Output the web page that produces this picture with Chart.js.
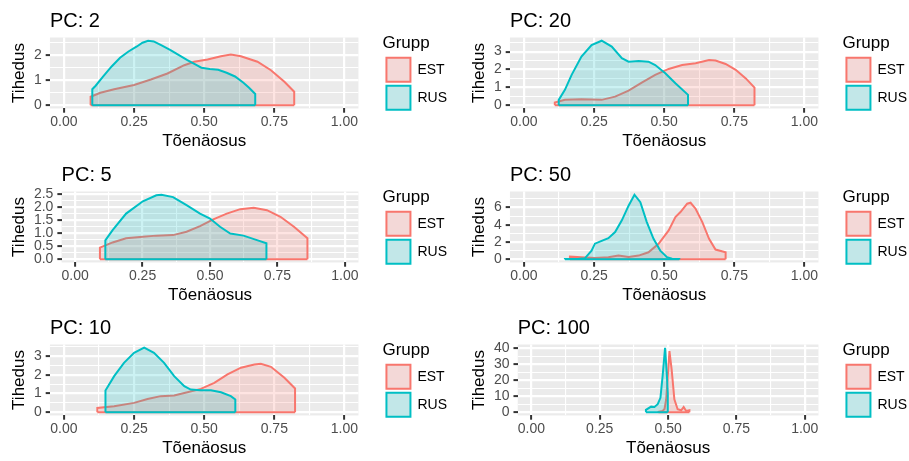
<!DOCTYPE html>
<html lang="et">
<head>
  <meta charset="UTF-8" />
  <title>Tõenäosuse tihedus</title>
  <script src="https://cdn.jsdelivr.net/npm/chart.js"></script>
  <style>
    body {
      margin: 0;
      background: #ffffff;
      width: 909px;
      height: 461px;
      overflow: hidden;
      position: relative;
    }
    canvas {
      position: absolute;
    }
  </style>
</head>
<body>
  <canvas id="c0" width="457" height="154" style="left:0;top:0"></canvas>
  <canvas id="c1" width="457" height="154" style="left:460px;top:0"></canvas>
  <canvas id="c2" width="457" height="154" style="left:0;top:154px"></canvas>
  <canvas id="c3" width="457" height="154" style="left:460px;top:154px"></canvas>
  <canvas id="c4" width="457" height="154" style="left:0;top:307px"></canvas>
  <canvas id="c5" width="457" height="154" style="left:460px;top:307px"></canvas>

  <script>
    // groups and colours (ggplot default hues)
    const groups = ['EST', 'RUS'];
    const lineColors = ['#F8766D', '#00BFC4'];
    const fillColors = ['rgba(248,118,109,0.2)', 'rgba(0,191,196,0.2)'];
    const keyColors = ['#F3D8D7', '#C2E7E8'];

    const xTicks = [0, 0.25, 0.5, 0.75, 1];
    const xTickLabels = ['0.00', '0.25', '0.50', '0.75', '1.00'];

    // density curves, [probability, density]
    const pc2Est = [[0.095,0],[0.095,0.34],[0.13,0.5],[0.179,0.64],[0.25,0.81],[0.31,1.03],[0.369,1.27],[0.429,1.6],[0.464,1.74],[0.512,1.83],[0.56,1.96],[0.595,2.03],[0.631,1.96],[0.69,1.74],[0.738,1.4],[0.786,0.94],[0.821,0.54],[0.821,0]];
    const pc2Rus = [[0.101,0],[0.101,0.64],[0.113,0.78],[0.14,1.15],[0.17,1.55],[0.2,1.9],[0.23,2.15],[0.26,2.35],[0.28,2.5],[0.3,2.58],[0.32,2.55],[0.35,2.38],[0.38,2.2],[0.41,2.0],[0.44,1.8],[0.47,1.62],[0.49,1.5],[0.52,1.45],[0.55,1.42],[0.58,1.3],[0.61,1.15],[0.64,0.9],[0.66,0.7],[0.682,0.45],[0.682,0]];

    const pc20Est = [[0.11,0],[0.11,0.15],[0.146,0.3],[0.205,0.34],[0.277,0.3],[0.325,0.48],[0.373,0.82],[0.42,1.27],[0.468,1.7],[0.516,2.03],[0.564,2.25],[0.612,2.35],[0.66,2.53],[0.683,2.5],[0.719,2.31],[0.755,1.98],[0.791,1.5],[0.822,0.99],[0.822,0]];
    const pc20Rus = [[0.124,0],[0.124,0.3],[0.146,0.86],[0.17,1.7],[0.205,2.72],[0.241,3.37],[0.277,3.61],[0.313,3.28],[0.349,2.63],[0.373,2.44],[0.409,2.48],[0.444,2.44],[0.468,2.25],[0.504,1.79],[0.54,1.23],[0.585,0.58],[0.585,0]];

    const pc5Est = [[0.092,0],[0.092,0.44],[0.139,0.64],[0.189,0.8],[0.251,0.86],[0.301,0.9],[0.363,0.92],[0.413,1.05],[0.463,1.26],[0.512,1.52],[0.562,1.74],[0.612,1.91],[0.662,1.96],[0.711,1.87],[0.761,1.62],[0.811,1.24],[0.861,0.8],[0.861,0]];
    const pc5Rus = [[0.112,0],[0.112,0.72],[0.139,1.11],[0.189,1.74],[0.251,2.21],[0.301,2.44],[0.32,2.46],[0.363,2.37],[0.413,2.06],[0.463,1.74],[0.5,1.55],[0.537,1.24],[0.575,0.98],[0.624,0.9],[0.674,0.73],[0.709,0.61],[0.709,0]];

    const pc50Est = [[0.164,0],[0.164,0.3],[0.205,0.23],[0.253,0.15],[0.301,0.23],[0.337,0.42],[0.373,0.27],[0.409,0.42],[0.444,0.8],[0.48,1.78],[0.516,3.33],[0.54,4.88],[0.558,5.46],[0.582,6.43],[0.594,6.54],[0.612,5.85],[0.636,4.3],[0.66,2.36],[0.683,1.12],[0.719,0.8],[0.719,0]];
    const pc50Rus = [[0.146,0],[0.146,0.02],[0.19,0.03],[0.217,0.1],[0.241,1.0],[0.253,1.8],[0.277,2.13],[0.301,2.44],[0.325,3.14],[0.349,4.5],[0.373,6.2],[0.394,7.47],[0.415,6.6],[0.438,4.3],[0.462,2.36],[0.486,1.0],[0.51,0.23],[0.528,0.05],[0.554,0.02],[0.554,0]];

    const pc10Est = [[0.119,0],[0.119,0.23],[0.179,0.32],[0.25,0.5],[0.298,0.71],[0.345,0.86],[0.393,0.89],[0.44,1.07],[0.488,1.25],[0.536,1.57],[0.583,2.02],[0.631,2.38],[0.679,2.55],[0.702,2.59],[0.738,2.43],[0.786,1.84],[0.824,1.27],[0.824,0]];
    const pc10Rus = [[0.148,0],[0.148,1.16],[0.179,1.93],[0.214,2.64],[0.25,3.18],[0.286,3.45],[0.321,3.18],[0.357,2.64],[0.393,1.93],[0.429,1.39],[0.452,1.21],[0.488,1.18],[0.524,1.18],[0.56,1.07],[0.595,0.86],[0.611,0.68],[0.611,0]];

    const pc100Est = [[0.465,0],[0.465,0.3],[0.48,0.8],[0.487,2],[0.493,8],[0.499,22.7],[0.505,38.3],[0.513,26.9],[0.523,8.1],[0.535,1.9],[0.548,1.25],[0.557,3.3],[0.566,0.8],[0.578,1.2],[0.578,0]];
    const pc100Rus = [[0.419,0],[0.419,1.5],[0.438,3.5],[0.45,3.3],[0.462,5],[0.472,9],[0.48,22.7],[0.489,40.4],[0.496,22],[0.499,12],[0.499,0]];

    const panels = [
      { id: 'c0', title: 'PC: 2',   est: pc2Est,   rus: pc2Rus,   yTicks: [0, 1, 2],    yLabels: ['0', '1', '2'] },
      { id: 'c1', title: 'PC: 20',  est: pc20Est,  rus: pc20Rus,  yTicks: [0, 1, 2, 3], yLabels: ['0', '1', '2', '3'] },
      { id: 'c2', title: 'PC: 5',   est: pc5Est,   rus: pc5Rus,   yTicks: [0, 0.5, 1, 1.5, 2, 2.5], yLabels: ['0.0', '0.5', '1.0', '1.5', '2.0', '2.5'] },
      { id: 'c3', title: 'PC: 50',  est: pc50Est,  rus: pc50Rus,  yTicks: [0, 2, 4, 6], yLabels: ['0', '2', '4', '6'] },
      { id: 'c4', title: 'PC: 10',  est: pc10Est,  rus: pc10Rus,  yTicks: [0, 1, 2, 3], yLabels: ['0', '1', '2', '3'] },
      { id: 'c5', title: 'PC: 100', est: pc100Est, rus: pc100Rus, yTicks: [0, 10, 20, 30, 40], yLabels: ['0', '10', '20', '30', '40'] }
    ];

    Chart.defaults.font.family = "'Liberation Sans', Arial, sans-serif";
    Chart.defaults.color = '#000000';

    function nearly(a, b) { return Math.abs(a - b) < 1e-9; }
    function isMajor(ctx, major) { return ctx.tick && major.some(v => nearly(v, ctx.tick.value)); }
    function labelFor(v, values, labels) {
      const i = values.findIndex(t => nearly(t, v));
      return i < 0 ? '' : labels[i];
    }
    // major breaks plus ggplot-style minor breaks halfway between them
    function withMinor(major, lo, hi) {
      const half = (major[1] - major[0]) / 2;
      const all = [];
      major.forEach(v => all.push(v - half, v, v + half));
      return all
        .filter((v, i, a) => v >= lo && v <= hi && a.findIndex(w => nearly(w, v)) === i)
        .sort((a, b) => a - b);
    }
    function gridFor(major) {
      return {
        color: '#FFFFFF',
        lineWidth: c => (isMajor(c, major) ? 2.2 : 1.1),
        drawTicks: true,
        tickLength: 4.25,
        tickColor: c => (isMajor(c, major) ? '#333333' : 'rgba(0,0,0,0)'),
        tickWidth: 2
      };
    }
    const toPoints = arr => arr.map(p => ({ x: p[0], y: p[1] }));
    const baseOf = arr => [{ x: arr[0][0], y: 0 }, { x: arr[arr.length - 1][0], y: 0 }];

    // grey panel background
    const panelBg = {
      id: 'panelBg',
      beforeDraw(chart) {
        const { ctx, chartArea: a } = chart;
        ctx.save();
        ctx.fillStyle = '#EBEBEB';
        ctx.fillRect(a.left, a.top, a.right - a.left, a.bottom - a.top);
        ctx.restore();
      }
    };

    panels.forEach(p => {
      const series = [p.est, p.rus];
      const yMaxData = Math.max(...series.flat().map(d => d[1]));
      const yMin = -0.05 * yMaxData;
      const yMax = 1.05 * yMaxData;
      const xAll = withMinor(xTicks, -0.05, 1.05);
      const yAll = withMinor(p.yTicks, yMin, yMax);

      const datasets = [];
      series.forEach((s, i) => {
        datasets.push({
          label: groups[i],
          data: toPoints(s),
          borderColor: lineColors[i],
          backgroundColor: fillColors[i],
          borderWidth: 2,
          fill: 'origin',
          tension: 0,
          pointRadius: 0,
          order: 3 - 2 * i
        });
        datasets.push({
          label: groups[i] + ' base',
          data: baseOf(s),
          borderColor: lineColors[i],
          borderWidth: 2,
          fill: false,
          pointRadius: 0,
          order: 2 - 2 * i
        });
      });

      new Chart(document.getElementById(p.id), {
        type: 'line',
        data: { datasets },
        plugins: [panelBg],
        options: {
          responsive: false,
          devicePixelRatio: 1,
          animation: false,
          events: [],
          layout: { padding: 0 },
          scales: {
            x: {
              type: 'linear',
              min: -0.05,
              max: 1.05,
              afterBuildTicks: s => { s.ticks = xAll.map(v => ({ value: v })); },
              grid: gridFor(xTicks),
              border: { display: false },
              ticks: {
                autoSkip: false,
                maxRotation: 0,
                padding: 0.6,
                color: '#4D4D4D',
                font: { size: 14 },
                callback: v => labelFor(v, xTicks, xTickLabels)
              },
              title: {
                display: true,
                text: 'Tõenäosus',
                color: '#000000',
                font: { size: 17 },
                padding: { top: 0, bottom: 2.9 }
              }
            },
            y: {
              type: 'linear',
              min: yMin,
              max: yMax,
              afterBuildTicks: s => { s.ticks = yAll.map(v => ({ value: v })); },
              grid: gridFor(p.yTicks),
              border: { display: false },
              ticks: {
                autoSkip: false,
                padding: 4,
                color: '#4D4D4D',
                font: { size: 14 },
                callback: v => labelFor(v, p.yTicks, p.yLabels)
              },
              title: {
                display: true,
                text: 'Tihedus',
                color: '#000000',
                font: { size: 17 },
                padding: { top: 9.5, bottom: 0 }
              }
            },
            // empty box: keeps the gap between panel and legend
            gap: {
              type: 'linear',
              position: 'right',
              display: true,
              grid: { display: false, drawTicks: false },
              border: { display: false },
              ticks: { display: false },
              afterFit: s => { s.width = 24; }
            }
          },
          plugins: {
            tooltip: { enabled: false },
            title: {
              display: true,
              text: p.title,
              align: 'start',
              fullSize: false,
              color: '#000000',
              font: { size: 20, weight: 'normal' },
              padding: { top: 9.65, bottom: 3.85 }
            },
            legend: {
              position: 'right',
              align: 'start',
              title: {
                display: true,
                text: 'Grupp',
                position: 'start',
                color: '#000000',
                font: { size: 17, lineHeight: 1.1 },
                padding: { top: 35, bottom: 0 }
              },
              labels: {
                boxWidth: 24,
                boxHeight: 24,
                padding: 4,
                color: '#000000',
                font: { size: 14 },
                generateLabels: () => groups.map((g, i) => ({
                  text: g,
                  fillStyle: keyColors[i],
                  strokeStyle: lineColors[i],
                  lineWidth: 2,
                  hidden: false,
                  datasetIndex: 2 * i
                }))
              }
            }
          }
        }
      });
    });
  </script>
</body>
</html>
